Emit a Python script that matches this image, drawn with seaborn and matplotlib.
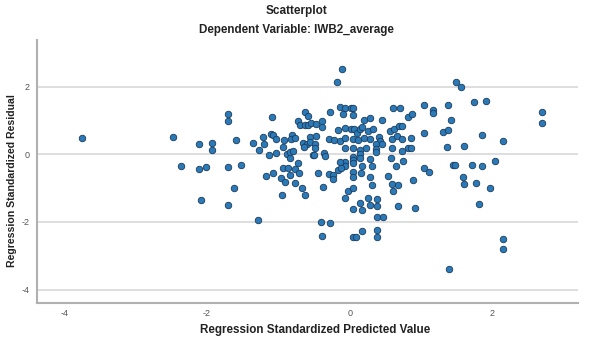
import matplotlib
matplotlib.use("Agg")
import matplotlib.pyplot as plt
import seaborn as sns
import pandas as pd

predicted = [
    -3.76, -2.48, -2.37, -2.12, -2.11, -2.01, -1.93, -1.93, -1.70, -1.71, -1.60, -1.70, -1.53, -1.62, -2.09, -1.70,
    -1.09, -1.35, -1.27, -1.22, -1.20, -1.13, -1.10, -1.07, -1.04, -1.03, -0.94, -0.92, -1.17, -1.07, -0.95, -0.96,
    -0.91, -0.93, -0.86, -0.84, -0.88, -0.84, -0.84, -0.80, -0.81, -0.82, -0.77, -0.73, -0.77, -0.71, -0.77, -0.67,
    -0.62, -0.72, -0.69, -0.62, -0.58, -0.62, -0.58, -0.54, -0.47, -0.65, -0.60, -0.64, -0.55, -0.56, -0.48, -0.47,
    -0.48, -0.52, -0.50, -0.45, -1.28,
    -0.39, -0.39, -0.28, -0.14, -0.07, 0.02, 0.04, -0.10, 0.04, 0.20, 0.28, 0.45, 0.61, -0.17, -0.07, 0.02, 0.06,
    0.10, 0.15, 0.18, 0.26, 0.33, -0.29, -0.22, -0.13, -0.07, 0.04, 0.12, 0.20, 0.28, 0.41, 0.42, 0.37, 0.46, 0.59,
    0.57, 0.62, -0.07, 0.04, 0.14, 0.23, 0.37, 0.37, 0.60, -0.36, -0.34, 0.04, 0.04, 0.04, 0.15, 0.14, -0.06, -0.06,
    -0.14, 0.29, 0.58, 0.32, 0.17,
    -0.29, -0.23, -0.23, -0.17, -0.12, -0.37, 0.04, 0.04, 0.16, 0.29, 0.32, 0.54, 0.59, -0.03, 0.05, -0.07, 0.26,
    0.39, 0.15, 0.29, 0.39, 0.04, 0.17, 0.61, 0.39, 0.47, -0.40, -0.28, -0.39, 0.18, 0.38, 0.04, 0.09, 0.38,
    -0.11, -0.18,
    0.71, 0.82, 0.88, 1.04, 1.17, 1.17, 0.69, 0.74, 0.66, 0.74, 0.86, 1.04, 0.82, 0.86, 0.73, 0.75, 0.65, 1.04, 1.11,
    0.68, 0.89, 0.68, 0.91,
    1.49, 1.56, 1.38, 1.74, 1.91, 2.70, 2.70, 1.42, 1.31, 1.38, 1.85, 2.15, 1.36, 1.61, 1.45, 1.48, 1.72, 1.86, 2.04,
    1.59, 1.61, 1.77, 1.97, 1.82, 2.15, 2.15, 1.40,
]

residual = [
    0.49, 0.50, -0.35, 0.30, -0.43, -0.37, 0.34, 0.12, 1.19, 0.98, 0.43, -0.37, -0.31, -1.00, -1.36, -1.49,
    1.09, 0.34, 0.12, 0.51, 0.31, -0.01, 0.59, 0.56, 0.45, 0.05, 0.22, 0.42, -0.63, -0.55, -1.21, -0.69,
    -0.82, -0.40, -0.42, -0.62, 0.00, -0.12, 0.08, 0.10, 0.58, 0.45, 0.49, -0.25, -0.44, -0.56, -0.86, -0.99,
    -1.21, 0.97, 0.87, 1.26, 1.14, 0.86, 0.86, 0.91, 0.89, 0.33, 0.31, 0.22, 0.51, 0.37, 0.29, 0.54,
    0.18, -0.01, -0.01, -0.54, -1.93,
    0.99, 0.80, 1.26, 1.40, 1.37, 1.37, 1.36, 1.19, 1.15, 1.00, 1.06, 1.01, 1.37, 0.72, 0.78, 0.75, 0.74,
    0.63, 0.74, 0.80, 0.70, 0.74, 0.44, 0.42, 0.40, 0.47, 0.44, 0.43, 0.49, 0.45, 0.50, 0.39, 0.31, 0.29, 0.46,
    0.70, 0.75, 0.17, 0.18, 0.13, 0.19, 0.16, 0.06, 0.18, 0.05, -0.06, -0.07, -0.17, -0.27, 0.00, -0.12, -0.22, -0.34,
    -0.22, -0.14, -0.12, -0.35, -0.34,
    -0.58, -0.60, -0.72, -0.48, -0.40, -0.97, -0.51, -0.68, -0.54, -0.68, -0.90, -0.65, -0.88, -1.08, -1.01, -1.28, -1.28,
    -1.32, -1.45, -1.49, -1.53, -1.62, -1.66, -1.08, -1.84, -1.86, -2.01, -2.04, -2.41, -2.28, -2.23, -2.45, -2.45, -2.45,
    2.53, 2.13,
    1.36, 1.10, 1.18, 1.44, 1.32, 1.22, 0.83, 0.83, 0.54, 0.44, 0.47, 0.62, 0.19, 0.18, 0.10, -0.21, -0.35, -0.40, -0.51,
    -0.90, -0.76, -1.52, -1.59,
    2.12, 1.99, 1.45, 1.54, 1.58, 1.24, 0.93, 1.02, 0.65, 0.73, 0.58, 0.38, 0.22, 0.24, -0.32, -0.32, -0.31, -0.35, -0.20,
    -0.67, -0.89, -0.84, -0.99, -1.47, -2.50, -2.80, -3.38,
]

tick_values = [-4, -2, 0, 2]
title = "Scatterplot"
subtitle = "Dependent Variable: IWB2_average"
x_label = "Regression Standardized Predicted Value"
y_label = "Regression Standardized Residual"

df = pd.DataFrame({"pred": predicted, "resid": residual})

sns.set_style("white")
plt.rcParams["font.family"] = ["Liberation Sans", "DejaVu Sans"]

fig = plt.figure(figsize=(5.92, 3.43), dpi=100)
ax = fig.add_axes([0.062, 0.116, 0.914, 0.767])

for t in tick_values:
    ax.axhline(t, color="#d4d4d4", lw=1.1, zorder=0)

sns.scatterplot(data=df, x="pred", y="resid", ax=ax, s=22, color="#2a7ab8",
                edgecolor="#1d3a5c", linewidth=0.6, zorder=3, legend=False)

ax.set_xlim(-4.39, 3.2)
ax.set_ylim(-4.40, 3.37)
ax.set_xticks(tick_values)
ax.set_yticks(tick_values)
ax.set_xticklabels([str(v) for v in tick_values])
ax.set_yticklabels([str(v) for v in tick_values])
ax.tick_params(axis="x", length=0, labelsize=6.5, labelcolor="#555555", pad=4)
ax.tick_params(axis="y", length=0, labelsize=6.5, labelcolor="#555555", pad=5)
ax.set_xlabel("")
ax.set_ylabel("")

for side in ["top", "right"]:
    ax.spines[side].set_visible(False)
for side in ["left", "bottom"]:
    ax.spines[side].set_color("#b0b0b0")
    ax.spines[side].set_linewidth(1.5)

fig.text(0.5, 1 - 11 / 343, title, ha="center", va="center", fontsize=8.5, fontweight="bold", color="#222222")
fig.text(0.5, 1 - 30 / 343, subtitle, ha="center", va="center", fontsize=8.4, fontweight="bold", color="#222222")
fig.text(315 / 592, 1 - 330 / 343, x_label, ha="center", va="center", fontsize=8.4, fontweight="bold", color="#222222")
fig.text(12 / 592, 1 - 181 / 343, y_label, ha="center", va="center", rotation=90, fontsize=7.6, fontweight="bold", color="#222222")

fig.savefig("out.png", dpi=100)
